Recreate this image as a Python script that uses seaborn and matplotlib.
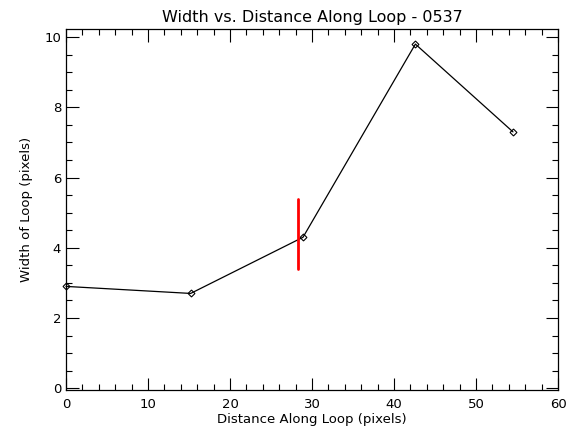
import matplotlib
matplotlib.use("Agg")
import matplotlib.pyplot as plt
import seaborn as sns
import pandas as pd
from matplotlib.ticker import MultipleLocator

distance = [0.0, 15.2, 28.9, 42.6, 54.5]
width = [2.9, 2.7, 4.3, 9.8, 7.3]
marker_x = 28.3
marker_y = [3.4, 5.4]
title = "Width vs. Distance Along Loop - 0537"
xlabel = "Distance Along Loop (pixels)"
ylabel = "Width of Loop (pixels)"

sns.set_style("ticks")
plt.rcParams['font.family'] = ['DejaVu Sans']
plt.rcParams['text.color'] = 'black'
plt.rcParams['axes.labelcolor'] = 'black'
plt.rcParams['xtick.color'] = 'black'
plt.rcParams['ytick.color'] = 'black'

df = pd.DataFrame({"d": distance, "w": width})
fig = plt.figure(figsize=(5.85, 4.36), dpi=100)
ax = fig.add_axes([0.1128, 0.1055, 0.8412, 0.828])
sns.lineplot(data=df, x="d", y="w", ax=ax, color="black", lw=0.9,
             marker="D", markersize=3.5, markerfacecolor="none",
             markeredgecolor="black", markeredgewidth=0.8, clip_on=False)
ax.plot([marker_x, marker_x], marker_y, color="red", lw=2)

ax.set_xlim(0, 60)
ax.set_ylim(-0.05, 10.23)
ax.xaxis.set_major_locator(MultipleLocator(10))
ax.xaxis.set_minor_locator(MultipleLocator(2))
ax.yaxis.set_major_locator(MultipleLocator(2))
ax.yaxis.set_minor_locator(MultipleLocator(0.5))
ax.tick_params(which="both", direction="in", top=True, right=True, width=0.8,
               labelsize=9.5, color="black", labelcolor="black")
ax.tick_params(which="major", length=9)
ax.tick_params(which="minor", length=4.5)
ax.tick_params(axis="x", pad=6)
for s in ax.spines.values():
    s.set_visible(True)
    s.set_linewidth(0.9)
    s.set_color("black")
ax.set_title(title, fontsize=11.5, pad=5, color="black")
ax.set_xlabel(xlabel, fontsize=9.5, labelpad=1, color="black")
ax.set_ylabel(ylabel, fontsize=9.5, labelpad=8, color="black")
fig.savefig("out.png", dpi=100)
